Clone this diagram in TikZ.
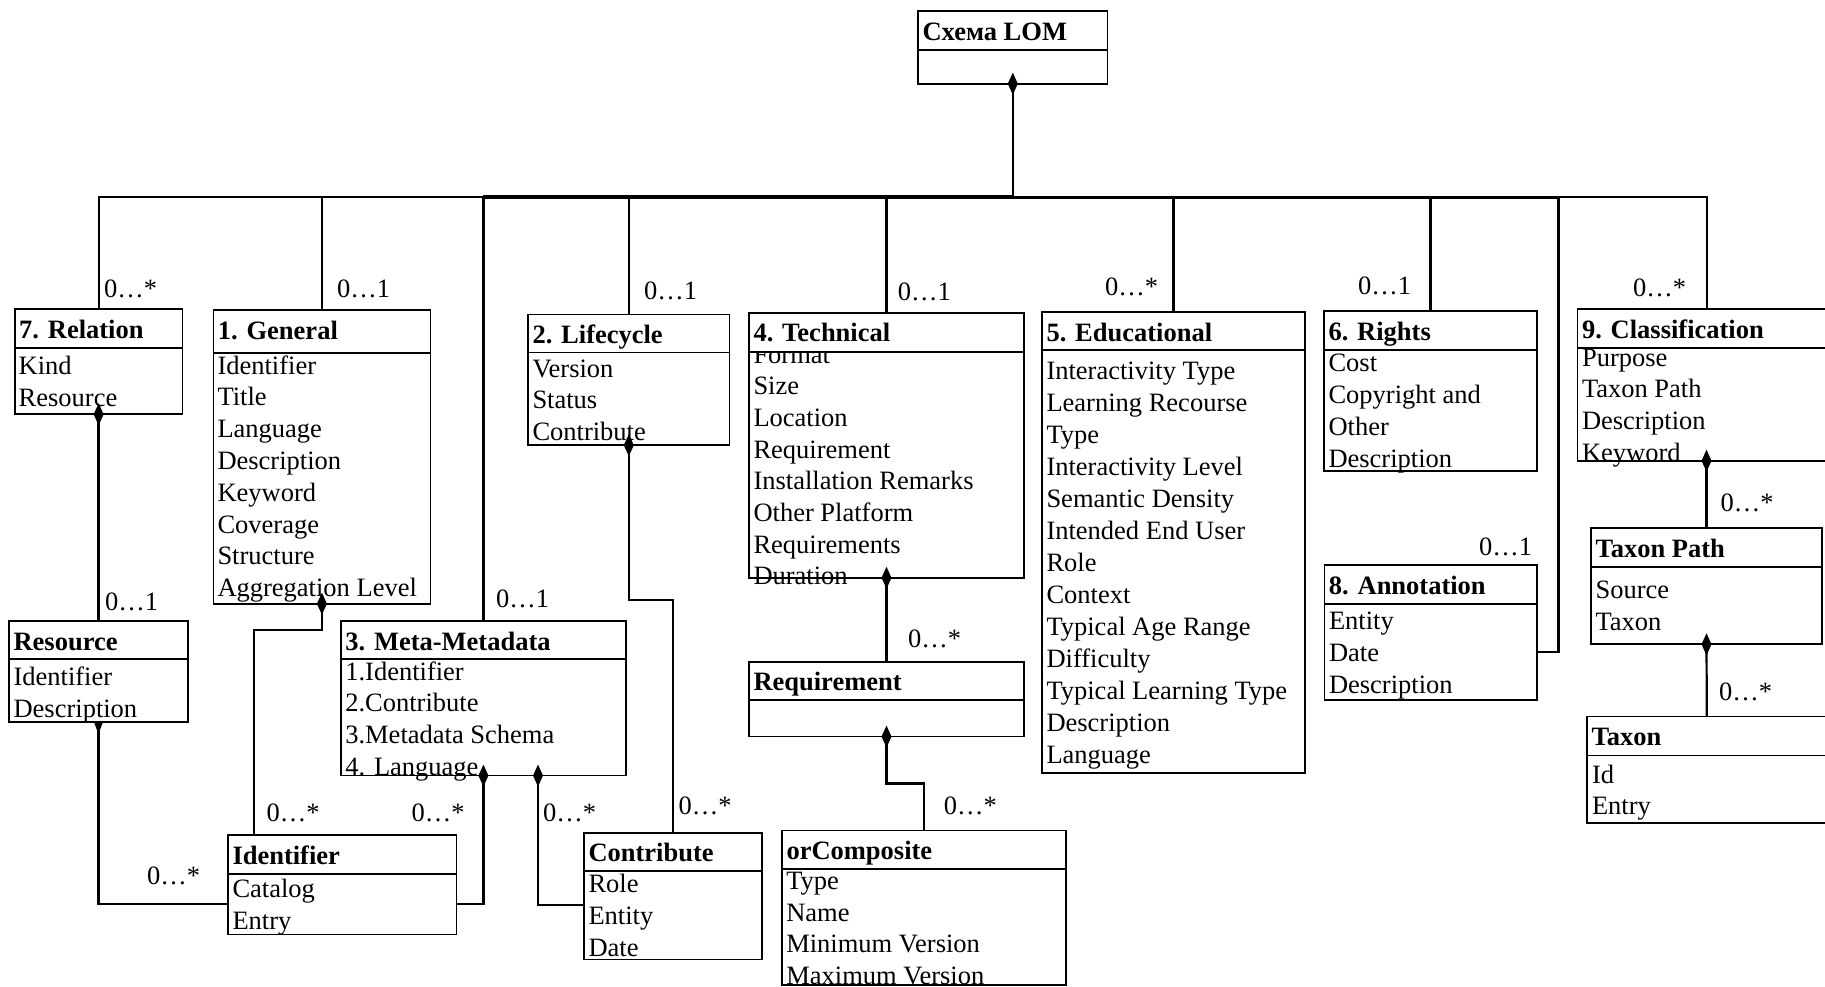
\documentclass[tikz,border=0pt]{standalone}
\usepackage{fontspec}
\setmainfont{Liberation Serif}
\usetikzlibrary{fit}
\tikzset{
  box/.style={draw, line width=0.85pt, inner sep=0pt, outer sep=0pt},
  sepline/.style={line width=0.85pt},
  conn/.style={line width=1.1pt},
  txt/.style={anchor=base west, inner sep=0pt, outer sep=0pt, font=\fontsize{13.25}{15.9}\selectfont},
  hdr/.style={anchor=base west, inner sep=0pt, outer sep=0pt, font=\fontsize{13.25}{15.9}\selectfont\bfseries},
  mult/.style={txt},
  dia/.pic={\fill (0,-11) -- (5,0) -- (0,11) -- (-5,0) -- cycle;},
}
% name, L, T, R, B
\newcommand\umlbox[5]{%
  \coordinate (#1-nw) at (#2,#3);
  \coordinate (#1-se) at (#4,#5);
  \node[box, fit=(#1-nw)(#1-se)] (#1) {};
}
% name, L, T, R, S, title
\newcommand\umlhead[6]{%
  \draw[sepline] (#2,#5) -- (#4,#5);
  \node[hdr] (#1-title) at ({#2+4.5},{#3+29}) {#6};
}
% name, x, y0, dy, list
\newcommand\umlrows[5]{%
  \foreach \t [count=\i from 1] in {#5} {\node[txt] (#1-r\i) at ({#2},{#3+(\i-1)*#4}) {\t};}
}
\begin{document}
\begin{tikzpicture}[x=0.5pt, y=-0.5pt]
\useasboundingbox (0,0) rectangle (1825,986);
\clip (0,0) rectangle (1825,986);

% ---------- boxes ----------
\umlbox{schema}{918}{11}{1107.6}{83.7}
\umlbox{rel}{14.7}{309.3}{182.6}{414.3}
\umlbox{gen}{213.4}{310.3}{430.4}{603.7}
\umlbox{life}{528}{314.4}{729.6}{445.2}
\umlbox{tech}{749}{312.7}{1024}{577.8}
\umlbox{edu}{1042}{312}{1305}{773}
\umlbox{rights}{1324}{311.3}{1536.8}{471.3}
\umlbox{cls}{1577.5}{309.3}{1860}{460.7}
\umlbox{tpath}{1591}{528}{1822}{644.3}
\umlbox{taxon}{1587.2}{716.5}{1826.4}{822.7}
\umlbox{annot}{1324.4}{565}{1536.8}{700}
\umlbox{res}{9.1}{621}{187.8}{722}
\umlbox{meta}{340.8}{621.2}{626}{775.6}
\umlbox{ident}{228}{835.3}{456.5}{934.4}
\umlbox{contr}{584}{832.8}{761.7}{959.5}
\umlbox{req}{749}{661.8}{1024}{736.6}
\umlbox{orc}{782}{830.6}{1066.3}{985}

% ---------- rows ----------
\umlrows{rel}{18.7}{374.5}{31.5}{Kind,Resource}
\umlrows{gen}{217.5}{374}{31.8}{Identifier,Title,Language,Description,Keyword,Coverage,Structure,Aggregation Level}
\umlrows{life}{532.5}{377}{31.5}{Version,Status,Contribute}
\umlrows{tech}{753.5}{363}{31.7}{Format,Size,Location,Requirement,Installation Remarks,Other Platform,Requirements,Duration}
\umlrows{edu}{1046.5}{379}{32}{Interactivity Type,Learning Recourse,Type,Interactivity Level,Semantic Density,Intended End User,Role,Context,Typical Age Range,Difficulty,Typical Learning Type,Description,Language}
\umlrows{rights}{1328.5}{371.3}{32}{Cost,Copyright and,Other,Description}
\umlrows{cls}{1582}{366}{31.8}{Purpose,Taxon Path,Description,Keyword}
\umlrows{tpath}{1595.5}{598.7}{32}{Source,Taxon}
\umlrows{taxon}{1592}{783}{31}{Id,Entry}
\umlrows{annot}{1329}{629.7}{31.7}{Entity,Date,Description}
\umlrows{res}{13.6}{685.3}{32}{Identifier,Description}
\umlrows{meta}{345.3}{680}{31.7}{1.Identifier,2.Contribute,3.Metadata Schema,4. Language}
\umlrows{ident}{232.5}{897.5}{31.8}{Catalog,Entry}
\umlrows{contr}{588.5}{892}{32.2}{Role,Entity,Date}
\umlrows{orc}{786.3}{889.8}{31.4}{Type,Name,Minimum Version,Maximum Version}

% header of Technical hides the top of its first row
\fill[white] (750,313.6) rectangle (1023,351.7);

% ---------- headers ----------
\umlhead{schema}{918}{11}{1107.6}{50}{Схема LOM}
\umlhead{rel}{14.7}{309.3}{182.6}{348.3}{7. Relation}
\umlhead{gen}{213.4}{310.3}{430.4}{353.3}{1. General}
\umlhead{life}{528}{314.4}{729.6}{352.5}{2. Lifecycle}
\umlhead{tech}{749}{312.7}{1024}{351.7}{4. Technical}
\umlhead{edu}{1042}{312}{1305}{350}{5. Educational}
\umlhead{rights}{1324}{311.3}{1536.8}{350}{6. Rights}
\umlhead{cls}{1577.5}{309.3}{1860}{347.7}{9. Classification}
\umlhead{tpath}{1591}{528}{1822}{566.7}{Taxon Path}
\umlhead{taxon}{1587.2}{716.5}{1826.4}{755.5}{Taxon}
\umlhead{annot}{1324.4}{565}{1536.8}{603.7}{8. Annotation}
\umlhead{res}{9.1}{621}{187.8}{659}{Resource}
\umlhead{meta}{340.8}{621.2}{626}{659}{3. Meta-Metadata}
\umlhead{ident}{228}{835.3}{456.5}{873.8}{Identifier}
\umlhead{contr}{584}{832.8}{761.7}{870.9}{Contribute}
\umlhead{req}{749}{661.8}{1024}{700.3}{Requirement}
\umlhead{orc}{782}{830.6}{1066.3}{868.7}{orComposite}

% ---------- bus ----------
\coordinate (busA) at (98.6,197);
\coordinate (busD) at (1558.5,197);
\draw[line width=1.15pt] (rel.north) |- (meta.north |- busA);
\draw[line width=2pt] (meta.north |- busA) -- (schema.south |- busA);
\draw[line width=1.5pt] (schema.south |- busA) -- (busD);
\draw[line width=1pt] (busD) -| (tpath.north |- cls.north);
\draw[conn] (schema.south) -- (schema.south |- busA);
\draw[conn] (gen.north) -- (gen.north |- busA);
\draw[conn] (meta.north) -- (meta.north |- busA);
\draw[conn] (life.north) -- (life.north |- busA);
\draw[conn] (tech.north) -- (tech.north |- busA);
\draw[conn] (edu.north) -- (edu.north |- busA);
\draw[conn] (rights.north) -- (rights.north |- busA);
\draw[conn] (annot.east |- 0,651.7) -| (busD);

% ---------- lower connectors ----------
\draw[conn] (res.north |- rel.south) -- (res.north);
\draw[conn] (res.south) |- (ident.west |- 0,903.7);
\draw[conn] (gen.south) -- (gen.south |- 0,629.8) -| (ident.north -| 254,0);
\draw[conn] (meta.south) |- (ident.east |- 0,903.7);
\draw[conn] (meta.south -| 538,0) |- (contr.west |- 0,905);
\draw[conn] (life.south) -- (life.south |- 0,599.6) -| (contr.north);
\draw[conn] (tech.south) -- (req.north);
\draw[conn] (req.south) -- (req.south |- 0,783.4) -| (orc.north);
\draw[conn] (cls.south -| tpath.north) -- (tpath.north);
\draw[conn] (tpath.south) -- (taxon.north);

% ---------- diamonds ----------
\pic at (schema.south) {dia};
\pic at (rel.south) {dia};
\pic at (gen.south) {dia};
\pic at (life.south) {dia};
\pic at (meta.south) {dia};
\pic at (meta.south -| 538,0) {dia};
\pic at (tech.south) {dia};
\pic at (req.south) {dia};
\pic at (cls.south -| tpath.north) {dia};
\pic at (tpath.south) {dia};
\fill (res.south) ++(-4.5,0) -- ++(9,0) -- ++(-4.5,12) -- cycle;

% ---------- multiplicities ----------
\node[mult] (m-rel) at (104,297) {0…*};
\node[mult] (m-gen) at (337,297) {0…1};
\node[mult] (m-life) at (644,299) {0…1};
\node[mult] (m-tech) at (897.8,300) {0…1};
\node[mult] (m-edu) at (1105,295) {0…*};
\node[mult] (m-rights) at (1358,294) {0…1};
\node[mult] (m-cls) at (1633,296.7) {0…*};
\node[mult] (m-meta) at (496,607.4) {0…1};
\node[mult] (m-res) at (105,610.7) {0…1};
\node[mult] (m-gi) at (266.6,821.5) {0…*};
\node[mult] (m-mi) at (411.7,821) {0…*};
\node[mult] (m-mc) at (543,821) {0…*};
\node[mult] (m-ri) at (147,884) {0…*};
\node[mult] (m-lc) at (678.6,814) {0…*};
\node[mult] (m-tr) at (908,647.8) {0…*};
\node[mult] (m-ro) at (943.9,814) {0…*};
\node[mult] (m-annot) at (1479,555) {0…1};
\node[mult] (m-tp) at (1720.5,511.7) {0…*};
\node[mult] (m-tx) at (1719,700) {0…*};
\end{tikzpicture}
\end{document}
